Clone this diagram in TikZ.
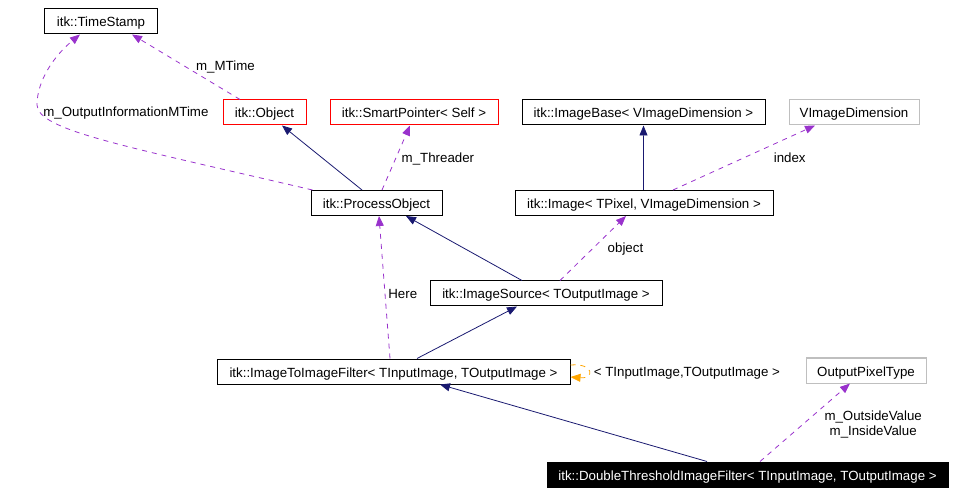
\documentclass[tikz,border=0pt]{standalone}
\usepackage{fontspec}
\setmainfont{Liberation Sans}
\usepackage{xcolor}
\usepackage{tikz}
\usetikzlibrary{arrows.meta}
\definecolor{edgeblue}{RGB}{25,25,112}
\definecolor{edgepurple}{RGB}{153,50,204}
\definecolor{edgeorange}{RGB}{255,165,0}
\definecolor{boxgrey}{RGB}{191,191,191}
\tikzstyle{klass} = [rectangle, minimum height=25bp, inner sep=0pt, text centered, text height=12.5bp, text depth=1.5bp, draw=black, line width=1bp, font=\fontsize{13.3bp}{15bp}\selectfont]
\tikzstyle{refklass} = [klass, draw=red]
\tikzstyle{extklass} = [klass, draw=boxgrey]
\tikzstyle{mainklass} = [klass, fill=black, text=white]
\tikzstyle{inherit} = [draw=edgeblue, line width=0.8bp, -{Triangle[length=10bp,width=8bp]}]
\tikzstyle{usage} = [draw=edgepurple, line width=0.8bp, dash pattern=on 5bp off 5bp, -{Triangle[length=10bp,width=8bp]}]
\tikzstyle{tmpl} = [draw=edgeorange, line width=0.8bp, dash pattern=on 5bp off 5bp, -{Triangle[length=10bp,width=8bp]}]
\tikzstyle{elabel} = [anchor=west, inner sep=1bp, text height=12.5bp, text depth=1.5bp, font=\fontsize{13.3bp}{15bp}\selectfont]

\begin{document}
\begin{tikzpicture}[x=1bp, y=-1bp]
    \useasboundingbox (0,0) rectangle (972,495);

    \node (ts) [klass, minimum width=112bp] at (101,21.5) {itk::TimeStamp};
    \node (obj) [refklass, minimum width=83bp] at (264.5,112.5) {itk::Object};
    \node (sp) [refklass, minimum width=168bp] at (414,112.5) {itk::SmartPointer< Self >};
    \node (ib) [klass, minimum width=243bp] at (643.5,112.5) {itk::ImageBase< VImageDimension >};
    \node (vid) [extklass, minimum width=130bp] at (854,112.5) {VImageDimension};
    \node (po) [klass, minimum width=131bp] at (376.5,203) {itk::ProcessObject};
    \node (img) [klass, minimum width=258bp] at (644,203) {itk::Image< TPixel, VImageDimension >};
    \node (src) [klass, minimum width=232bp] at (546,293.5) {itk::ImageSource< TOutputImage >};
    \node (itif) [klass, minimum width=353bp] at (393.5,371.5) {itk::ImageToImageFilter< TInputImage, TOutputImage >};
    \node (opt) [extklass, minimum width=120bp] at (866,370.5) {OutputPixelType};
    \node (dtif) [mainklass, minimum width=401bp] at (747.5,474.5) {itk::DoubleThresholdImageFilter< TInputImage, TOutputImage >};

    \draw [usage] ([xshift=-24.5bp]obj.north) -- node[elabel, pos=0.53, xshift=12bp] {m\_MTime} ([xshift=31bp]ts.south);
    \draw [usage] ([xshift=2bp]po.north west) .. controls (120,145) and (38,130) .. (37,105) node[elabel, xshift=5bp, yshift=-6bp] {m\_OutputInformationMTime} .. controls (37,80) and (55,55) .. ([xshift=-21bp]ts.south);
    \draw [inherit] ([xshift=-14.5bp]po.north) -- ([xshift=17.5bp]obj.south);
    \draw [usage] ([xshift=5.5bp]po.north) -- node[elabel, pos=0.51, xshift=4bp] {m\_Threader} ([xshift=-4bp]sp.south);
    \draw [inherit] ([xshift=-0.5bp]img.north) -- (ib.south);
    \draw [usage] ([xshift=29bp]img.north) -- node[elabel, pos=0.51, xshift=27bp] {index} ([xshift=-39bp]vid.south);
    \draw [inherit] ([xshift=-24bp]src.north) -- ([xshift=29.5bp]po.south);
    \draw [usage] ([xshift=14bp]src.north) -- node[elabel, pos=0.52, xshift=12bp] {object} ([xshift=-18bp]img.south);
    \draw [inherit] ([xshift=23.5bp]itif.north) -- ([xshift=-29bp]src.south);
    \draw [usage] ([xshift=-3.5bp]itif.north) -- node[elabel, pos=0.46, xshift=2bp] {Here} ([xshift=2.5bp]po.south);
    \draw [tmpl] ([yshift=6.5bp]itif.east) .. controls +(24,-2) and +(24,2) .. node[elabel, xshift=4bp] {< TInputImage,TOutputImage >} ([yshift=-5.5bp]itif.east);
    \draw [inherit] ([xshift=-40.5bp]dtif.north) -- ([xshift=46.5bp]itif.south);
    \draw [usage] ([xshift=12.5bp]dtif.north) -- node[elabel, pos=0.49, xshift=19bp, yshift=-7bp, align=center] {m\_OutsideValue\\m\_InsideValue} ([xshift=-16bp]opt.south);
\end{tikzpicture}
\end{document}
